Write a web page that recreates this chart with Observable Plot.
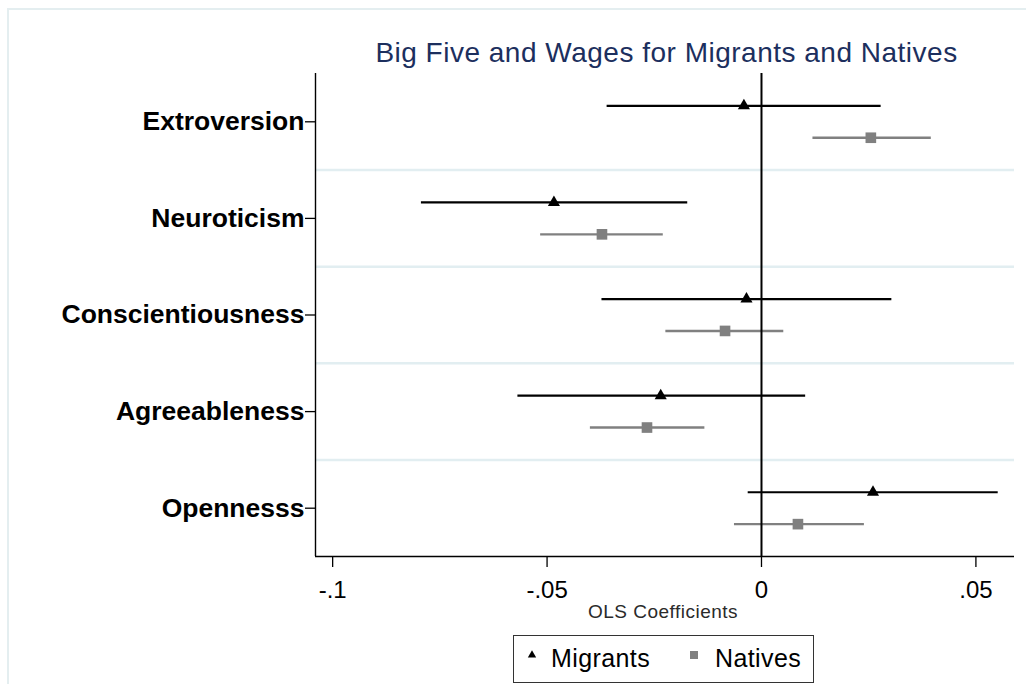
<!DOCTYPE html>
<html>
<head>
<meta charset="utf-8">
<script src="https://cdn.jsdelivr.net/npm/d3@7"></script>
<script src="https://cdn.jsdelivr.net/npm/@observablehq/plot@0.6"></script>
<style>
  html, body { margin: 0; padding: 0; background: #ffffff; }
  #page { position: relative; width: 1026px; height: 684px; overflow: hidden; background: #fff; }
  #outer { position: absolute; left: 7px; top: 8px; width: 1100px; height: 800px;
           border-left: 2px solid #e4eef0; border-top: 2px solid #e4eef0; }
  #legend { position: absolute; left: 513px; top: 635px; width: 301px; height: 48px;
            border: 1px solid #333; box-sizing: border-box;
            font-family: "Liberation Sans", Arial, sans-serif; font-size: 25px; color: #000; }
  #legend span.t { position: absolute; top: 9px; line-height: 26px; letter-spacing: 0.4px; }
  #legend svg { position: absolute; }
</style>
</head>
<body>
<div id="page">
  <div id="outer"></div>
  <div id="chart"></div>
  <div id="legend"></div>
</div>
<script>
// ---- data ----
const traits = ["Extroversion", "Neuroticism", "Conscientiousness", "Agreeableness", "Opennesss"];
const groups = ["Migrants", "Natives"];
const migCoef = [-0.0041, -0.0484, -0.0035, -0.0235, 0.0260];
const migLo   = [-0.0360, -0.0793, -0.0372, -0.0568, -0.0031];
const migHi   = [ 0.0279, -0.0172,  0.0304,  0.0103,  0.0552];
const natCoef = [ 0.0255, -0.0372, -0.0085, -0.0267,  0.0085];
const natLo   = [ 0.0120, -0.0515, -0.0223, -0.0399, -0.0063];
const natHi   = [ 0.0396, -0.0229,  0.0052, -0.0132,  0.0240];
const xTicks  = [-0.1, -0.05, 0, 0.05];
const xTickLabels = ["-.1", "-.05", "0", ".05"];
const title = "Big Five and Wages for Migrants and Natives";
const xLabel = "OLS Coefficients";

// ---- table ----
const groupOffset = {Migrants: -0.165, Natives: 0.165};
const rows = [];
traits.forEach((t, i) => {
  rows.push({trait: t, group: "Migrants", pos: i + groupOffset.Migrants, coef: migCoef[i], lo: migLo[i], hi: migHi[i]});
  rows.push({trait: t, group: "Natives", pos: i + groupOffset.Natives, coef: natCoef[i], lo: natLo[i], hi: natHi[i]});
});
const mig = rows.filter(d => d.group === "Migrants");
const nat = rows.filter(d => d.group === "Natives");
const gridPos = traits.slice(1).map((t, i) => i + 0.5);

const xDomain = [-0.104, 0.059];
const yDomain = [-0.5, 4.5];
const font = "Liberation Sans, Arial, sans-serif";

const chart = Plot.plot({
  width: 1026,
  height: 684,
  marginTop: 73,
  marginBottom: 128,
  marginLeft: 315,
  marginRight: 12,
  style: {fontFamily: font, background: "transparent", overflow: "visible", color: "#000"},
  x: {domain: xDomain, label: null},
  y: {domain: yDomain, reverse: true, label: null},
  marks: [
    Plot.ruleY(gridPos, {stroke: "#e2eef1", strokeWidth: 2.5}),
    Plot.ruleY(mig, {y: "pos", x1: "lo", x2: "hi", stroke: "#000", strokeWidth: 2.2}),
    Plot.ruleY(nat, {y: "pos", x1: "lo", x2: "hi", stroke: "#808080", strokeWidth: 2.4}),
    Plot.ruleX([0], {stroke: "#000", strokeWidth: 2}),
    Plot.dot(mig, {x: "coef", y: "pos", symbol: "triangle", r: 4.5, fill: "#000", stroke: "none"}),
    Plot.dot(nat, {x: "coef", y: "pos", symbol: "square", r: 6, fill: "#808080", stroke: "none"}),
    Plot.ruleX([xDomain[0]], {stroke: "#000", strokeWidth: 1.4}),
    Plot.ruleY([yDomain[1]], {stroke: "#000", strokeWidth: 1.4}),
    Plot.axisY({
      ticks: traits.map((t, i) => i),
      tickFormat: i => traits[i],
      tickSize: 10,
      tickPadding: 1,
      fontSize: 26.5,
      fontWeight: "bold",
      stroke: "#000",
      strokeWidth: 1.3,
      fill: "#000",
      label: null
    }),
    Plot.axisX({
      ticks: xTicks,
      tickFormat: v => xTickLabels[xTicks.indexOf(v)],
      tickSize: 11,
      tickPadding: 13,
      fontSize: 24,
      stroke: "#000",
      strokeWidth: 1.3,
      fill: "#000",
      label: null
    }),
    Plot.text([title], {
      frameAnchor: "top", dy: -12, dx: 1.5, lineAnchor: "bottom",
      fontSize: 28, fill: "#1c2f5e", text: d => d
    }),
    Plot.text([xLabel], {
      frameAnchor: "bottom", dy: 61, dx: -2, lineAnchor: "bottom",
      fontSize: 19, fill: "#2a2a2a", text: d => d
    })
  ]
});
document.getElementById("chart").appendChild(chart);
d3.select(chart).selectAll("g[aria-label='text'] text").attr("letter-spacing", "0.5");

// ---- legend ----
const legend = d3.select("#legend");
const items = [
  {label: groups[0], symbol: d3.symbolTriangle, size: 30, color: "#000", sx: 10, tx: 37},
  {label: groups[1], symbol: d3.symbolSquare, size: 64, color: "#808080", sx: 172, tx: 201}
];
items.forEach(it => {
  const s = legend.append("svg").attr("width", 16).attr("height", 16)
    .style("left", it.sx + "px").style("top", "10px");
  s.append("path").attr("d", d3.symbol(it.symbol, it.size)()).attr("transform", "translate(8,9)").attr("fill", it.color);
  legend.append("span").attr("class", "t").style("left", it.tx + "px").text(it.label);
});
</script>
</body>
</html>
